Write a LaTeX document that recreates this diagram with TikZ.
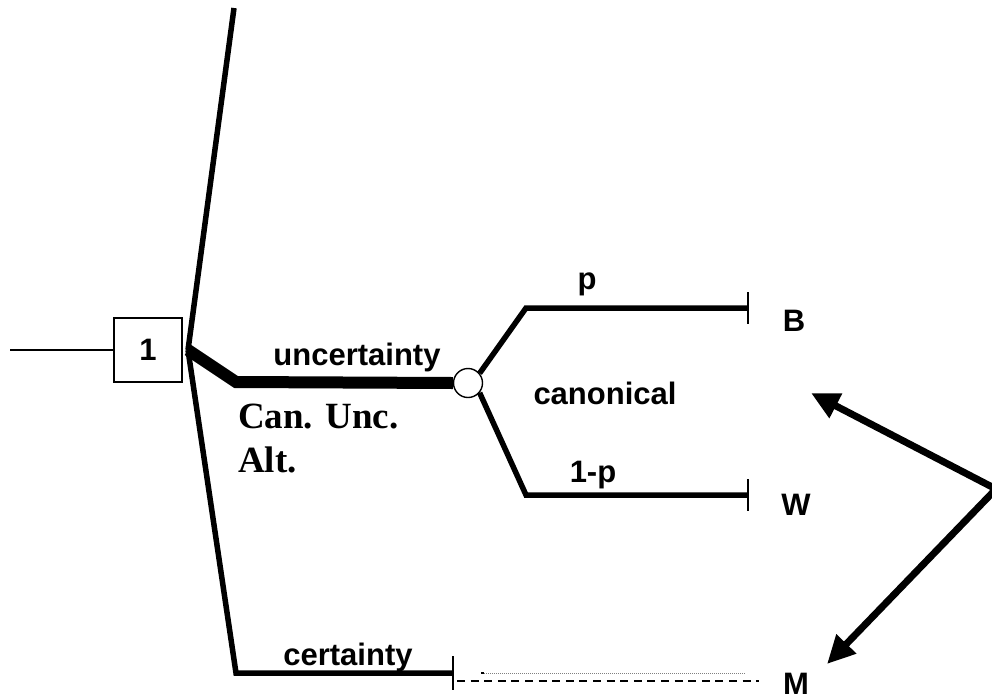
\documentclass[tikz,border=0pt]{standalone}
\usepackage{fontspec}
\setmainfont{Liberation Sans}
\newfontfamily\timesbold{Liberation Serif}
\usetikzlibrary{arrows.meta,positioning,calc}

\begin{document}
\begin{tikzpicture}[x=1pt,y=-1pt,
  branch/.style={line width=5.5pt},
  heavy/.style={line width=12pt},
  endtick/.style={line width=2.2pt},
  lbl/.style={font=\fontsize{31}{36}\selectfont\bfseries, inner sep=0pt, anchor=base},
  pointer/.style={-{Triangle[length=28pt,width=26pt]}, line width=7pt}
]
\useasboundingbox (0,0) rectangle (992,699);

\node[draw, line width=1.3pt, minimum width=68pt, minimum height=64pt,
      font=\fontsize{31}{36}\selectfont\bfseries] (dec) at (148,350) {1};
\node[draw, circle, line width=1.4pt, minimum size=29pt, inner sep=0pt] (chance) at (468,383) {};

\coordinate (in) at (10,350);
\coordinate (fan) at (188,350);
\coordinate (top) at (234,8);
\coordinate (uc) at (236,382);
\coordinate (cc) at (236,673);
\coordinate (cend) at (453,673);
\coordinate (pc) at (526,308);
\coordinate (pend) at (748,308);
\coordinate (qc) at (526,495);
\coordinate (qend) at (748,495);
\coordinate (apex) at (996,489);
\coordinate (bwtip) at (811,393);
\coordinate (mtip) at (827,664);

\draw[line width=1.4pt] (in) -- (dec.west);
\draw[branch] (fan) -- (top);
\draw[branch] (fan) -- (cc) -- (cend);
\draw[heavy] (fan) -- (uc) -- (chance.west);
\draw[branch] (chance.40) -- (pc) -- (pend);
\draw[branch] (chance.-40) -- (qc) -- (qend);

\draw[endtick] ($(pend)+(0,-16)$) -- ($(pend)+(0,16)$);
\draw[endtick] ($(qend)+(0,-16)$) -- ($(qend)+(0,16)$);
\draw[endtick] ($(cend)+(0,-17)$) -- ($(cend)+(0,17)$);

\draw[line width=1.4pt, dash pattern=on 8pt off 5.6pt] ($(cend)+(4,8)$) -- (759,681);
\draw[gray, line width=0.6pt, dash pattern=on 1pt off 1pt] (482,673) -- (746,673);
\fill (481,672.3) rectangle (484,673.7);

\node[lbl] (uncl) at (357,365) {uncertainty};
\node[lbl] (certl) at (348,665) {certainty};
\node[lbl] (pl) at (587,289) {p};
\node[lbl] (ql) at (593,482) {1-p};
\node[lbl] (canl) at (605,404) {canonical};
\node[lbl] (bl) at (794,331) {B};
\node[lbl] (wl) at (796,515) {W};
\node[lbl] (ml) at (796,694) {M};
\node[font=\fontsize{37}{44}\selectfont\timesbold\bfseries, align=left, anchor=base west,
      inner sep=0pt] (alt) at (238,472) {Can. Unc.\\Alt.};

\draw[pointer] (apex) -- (bwtip);
\draw[pointer] (apex) -- (mtip);
\end{tikzpicture}
\end{document}
